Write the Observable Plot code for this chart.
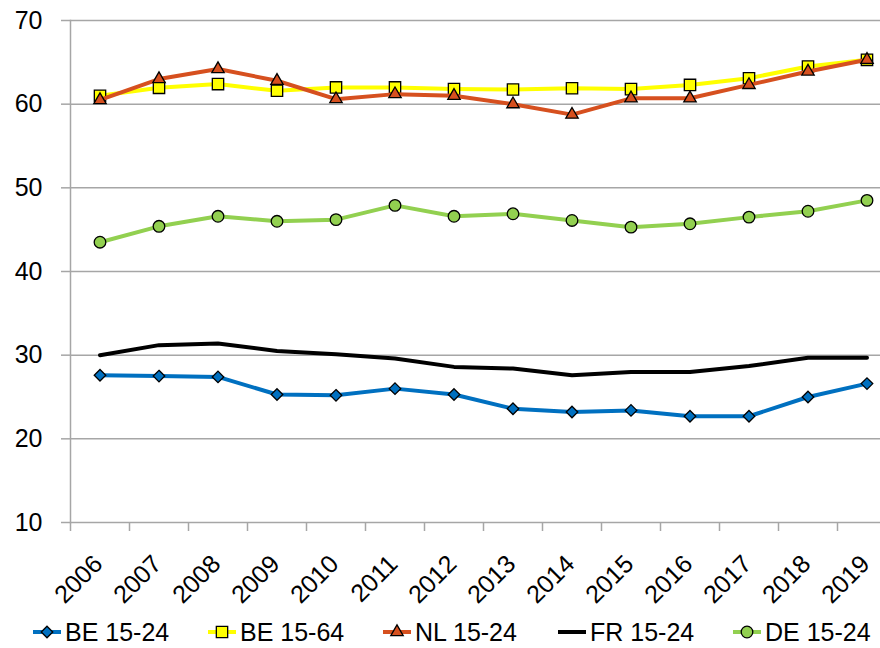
<!DOCTYPE html>
<html>
<head>
<meta charset="utf-8">
<script src="https://cdn.jsdelivr.net/npm/d3@7"></script>
<script src="https://cdn.jsdelivr.net/npm/@observablehq/plot@0.6"></script>
<style>
  html, body { margin: 0; padding: 0; background: #fff; }
  #wrap { width: 880px; overflow: hidden; font-family: "Liberation Sans", Arial, sans-serif; }
  #chart svg { max-width: none !important; display: block; }
  #legend { display: flex; height: 32px; align-items: center; padding-left: 32px; font-size: 25px; color: #000; }
  .item { flex: none; width: 175px; display: flex; align-items: center; }
  .item svg { flex: none; margin-right: 3px; }
</style>
</head>
<body>
<div id="wrap">
  <div id="chart"></div>
  <div id="legend"></div>
</div>
<script>
const years = [2006, 2007, 2008, 2009, 2010, 2011, 2012, 2013, 2014, 2015, 2016, 2017, 2018, 2019];
const be1524 = [27.6, 27.5, 27.4, 25.3, 25.2, 26.0, 25.3, 23.6, 23.2, 23.4, 22.7, 22.7, 25.0, 26.6];
const be1564 = [61.0, 61.95, 62.4, 61.6, 62.0, 62.0, 61.8, 61.75, 61.9, 61.8, 62.3, 63.1, 64.5, 65.3];
const nl1524 = [60.5, 63.0, 64.2, 62.8, 60.6, 61.2, 61.0, 60.0, 58.75, 60.7, 60.7, 62.3, 63.9, 65.3];
const fr1524 = [30.0, 31.2, 31.4, 30.5, 30.1, 29.6, 28.6, 28.4, 27.6, 28.0, 28.0, 28.7, 29.7, 29.7];
const de1524 = [43.5, 45.4, 46.6, 46.0, 46.2, 47.9, 46.6, 46.9, 46.1, 45.3, 45.7, 46.5, 47.2, 48.5];
const seriesNames = ["BE 15-24", "BE 15-64", "NL 15-24", "FR 15-24", "DE 15-24"];
const seriesValues = [be1524, be1564, nl1524, fr1524, de1524];
const colors = ["#0070c0", "#ffff00", "#d6501f", "#000000", "#92d050"];
const symbols = ["diamond2", "square", "triangle", null, "circle"];
const symbolR = {diamond2: 5.2, square: 6.4, triangle: 4.6, circle: 5.8};
const yTicks = [10, 20, 30, 40, 50, 60, 70];
const xBounds = years.map(y => y - 0.5).concat([years[years.length - 1] + 0.5]);

const grid = "#a6a6a6";
const seriesRows = seriesValues.map((vals, i) =>
  years.map((yr, j) => ({year: yr, value: vals[j], series: seriesNames[i]})));

const marks = [
  Plot.gridY(yTicks, {stroke: grid, strokeOpacity: 1, strokeWidth: 1.5}),
  Plot.frame({anchor: "left", stroke: grid, strokeWidth: 1.5}),
  Plot.axisX(xBounds, {tickSize: 9, stroke: grid, strokeWidth: 1.5, fill: "none", label: null}),
  Plot.axisY(yTicks, {tickSize: 9, tickPadding: 19, stroke: grid, strokeWidth: 1.5, fill: "#000", fontSize: 25, label: null}),
  Plot.text(years, {x: d => d, text: d => String(d), frameAnchor: "bottom", rotate: -45, textAnchor: "end", dx: 4, dy: 43, fontSize: 25, fill: "#000"})
];
seriesRows.forEach((rows, i) => {
  marks.push(Plot.line(rows, {x: "year", y: "value", stroke: colors[i], strokeWidth: 4, strokeLinejoin: "round", strokeLinecap: "round"}));
  if (symbols[i]) {
    marks.push(Plot.dot(rows, {x: "year", y: "value", symbol: symbols[i], r: symbolR[symbols[i]], fill: colors[i], stroke: "#000", strokeWidth: 1.3}));
  }
});

const chart = Plot.plot({
  width: 896,
  height: 616,
  marginLeft: 70,
  marginRight: 0,
  marginTop: 20,
  marginBottom: 94,
  style: {fontFamily: "'Liberation Sans', Arial, sans-serif", fontSize: "25px", background: "#fff", color: "#000", overflow: "visible", maxWidth: "none"},
  x: {type: "linear", domain: [years[0] - 0.5, years[years.length - 1] + 0.5], label: null},
  y: {domain: [10, 70], label: null},
  marks
});
document.getElementById("chart").appendChild(chart);

// legend
const legend = d3.select("#legend");
seriesNames.forEach((name, i) => {
  const item = legend.append("div").attr("class", "item");
  const svg = item.append("svg").attr("width", 30).attr("height", 20);
  svg.append("line").attr("x1", 1).attr("x2", 29).attr("y1", 10).attr("y2", 10)
    .attr("stroke", colors[i]).attr("stroke-width", 4);
  if (symbols[i]) {
    const r = symbolR[symbols[i]];
    const type = {diamond2: d3.symbolDiamond2, square: d3.symbolSquare, triangle: d3.symbolTriangle, circle: d3.symbolCircle}[symbols[i]];
    svg.append("path").attr("transform", "translate(15,10)")
      .attr("d", d3.symbol(type, Math.PI * r * r)())
      .attr("fill", colors[i]).attr("stroke", "#000").attr("stroke-width", 1.3);
  }
  item.append("span").text(name);
});
</script>
</body>
</html>
